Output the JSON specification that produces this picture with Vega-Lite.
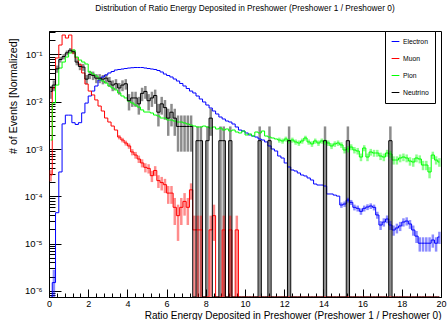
{
  "$schema": "https://vega.github.io/schema/vega-lite/v6.json",
  "width": 392,
  "height": 266,
  "autosize": {"type": "none"},
  "padding": {"left": 49, "top": 31, "right": 6, "bottom": 23},
  "background": "white",
  "title": {"text": "Distribution of Ratio Energy Deposited in Preshower (Preshower 1 / Preshower 0)", "fontSize": 8.3, "font": "Liberation Sans", "fontWeight": "normal", "color": "black", "frame": "group", "anchor": "middle", "offset": 15},
  "config": {
    "view": {"stroke": "black", "strokeWidth": 1},
    "axis": {"labelColor": "black", "tickColor": "black", "domainColor": "black", "titleColor": "black", "labelFont": "Liberation Sans", "titleFont": "Liberation Sans", "titleFontWeight": "normal", "grid": false, "labelOverlap": false, "labelFlush": false, "labelBound": false},
    "legend": {
      "orient": "none", "legendX": 336, "legendY": 0, "title": null,
      "symbolType": "stroke", "symbolSize": 60, "symbolStrokeWidth": 1, "symbolOpacity": 1,
      "labelFont": "Liberation Sans", "labelFontSize": 6.8, "labelColor": "black", "labelOffset": 3,
      "strokeColor": "black", "fillColor": "white", "padding": 6, "rowPadding": 8
    }
  },
  "datasets": {
    "hist": [
      {"x":0.083,"Electron":0,"Muon":2.82e-4,"Pion":1.55e-3,"Neutrino":0.0165},
      {"x":0.25,"Electron":1.5e-6,"Muon":0.0195,"Pion":9.4e-3,"Neutrino":0.0225},
      {"x":0.417,"Electron":4.5e-5,"Muon":0.084,"Pion":0.0225,"Neutrino":0.0495},
      {"x":0.583,"Electron":3.27e-4,"Muon":0.158,"Pion":0.0515,"Neutrino":0.078},
      {"x":0.75,"Electron":3.4e-3,"Muon":0.257,"Pion":0.069,"Neutrino":0.09},
      {"x":0.917,"Electron":5.2e-3,"Muon":0.222,"Pion":0.088,"Neutrino":0.108},
      {"x":1.083,"Electron":5.2e-3,"Muon":0.257,"Pion":0.107,"Neutrino":0.123},
      {"x":1.25,"Electron":3.6e-3,"Muon":0.107,"Pion":0.124,"Neutrino":0.114},
      {"x":1.417,"Electron":3.3e-3,"Muon":0.084,"Pion":0.088,"Neutrino":0.069},
      {"x":1.583,"Electron":3.6e-3,"Muon":0.0605,"Pion":0.076,"Neutrino":0.0555},
      {"x":1.75,"Electron":5.8e-3,"Muon":0.0405,"Pion":0.069,"Neutrino":0.054},
      {"x":1.917,"Electron":9.35e-3,"Muon":0.0237,"Pion":0.0627,"Neutrino":0.03},
      {"x":2.083,"Electron":0.0132,"Muon":0.0168,"Pion":0.0425,"Neutrino":0.0375},
      {"x":2.25,"Electron":0.0168,"Muon":0.0139,"Pion":0.0385,"Neutrino":0.036},
      {"x":2.417,"Electron":0.0215,"Muon":0.0109,"Pion":0.0349,"Neutrino":0.0315},
      {"x":2.583,"Electron":0.0288,"Muon":0.0081,"Pion":0.0302,"Neutrino":0.0315},
      {"x":2.75,"Electron":0.0333,"Muon":0.00636,"Pion":0.0274,"Neutrino":0.03},
      {"x":2.917,"Electron":0.0367,"Muon":0.00452,"Pion":0.0248,"Neutrino":0.0315},
      {"x":3.083,"Electron":0.0405,"Muon":0.00372,"Pion":0.0215,"Neutrino":0.027},
      {"x":3.25,"Electron":0.0435,"Muon":0.00306,"Pion":0.0195,"Neutrino":0.0225},
      {"x":3.417,"Electron":0.0468,"Muon":0.00252,"Pion":0.0177,"Neutrino":0.024},
      {"x":3.583,"Electron":0.048,"Muon":0.00179,"Pion":0.0153,"Neutrino":0.0195},
      {"x":3.75,"Electron":0.0491,"Muon":0.00155,"Pion":0.0132,"Neutrino":0.0225},
      {"x":3.917,"Electron":0.0503,"Muon":0.00134,"Pion":0.012,"Neutrino":0.024},
      {"x":4.083,"Electron":0.0515,"Muon":0.00116,"Pion":0.0103,"Neutrino":0.0105},
      {"x":4.25,"Electron":0.0523,"Muon":8.65e-4,"Pion":0.0094,"Neutrino":0.012},
      {"x":4.417,"Electron":0.0528,"Muon":7.46e-4,"Pion":0.0085,"Neutrino":0.012},
      {"x":4.583,"Electron":0.0528,"Muon":6.15e-4,"Pion":0.0077,"Neutrino":0.009},
      {"x":4.75,"Electron":0.0528,"Muon":5.07e-4,"Pion":0.0067,"Neutrino":0.015},
      {"x":4.917,"Electron":0.0515,"Muon":4.1e-4,"Pion":0.00605,"Neutrino":0.0165},
      {"x":5.083,"Electron":0.0503,"Muon":3.9e-4,"Pion":0.00605,"Neutrino":0.0105},
      {"x":5.25,"Electron":0.0491,"Muon":2.73e-4,"Pion":0.00577,"Neutrino":0.012},
      {"x":5.417,"Electron":0.048,"Muon":3.51e-4,"Pion":0.00523,"Neutrino":0.0135},
      {"x":5.583,"Electron":0.0457,"Muon":2.15e-4,"Pion":0.00499,"Neutrino":0.006},
      {"x":5.75,"Electron":0.0425,"Muon":1.95e-4,"Pion":0.00452,"Neutrino":0.009},
      {"x":5.917,"Electron":0.0385,"Muon":1.76e-4,"Pion":0.00452,"Neutrino":0.0075},
      {"x":6.083,"Electron":0.0358,"Muon":1.17e-4,"Pion":0.0041,"Neutrino":0.0045},
      {"x":6.25,"Electron":0.0333,"Muon":1.17e-4,"Pion":0.0041,"Neutrino":0.006},
      {"x":6.417,"Electron":0.0302,"Muon":5.85e-5,"Pion":0.0039,"Neutrino":0.0045},
      {"x":6.583,"Electron":0.0274,"Muon":3.9e-5,"Pion":0.00372,"Neutrino":0.003},
      {"x":6.75,"Electron":0.0243,"Muon":5.85e-5,"Pion":0.00372,"Neutrino":0.003},
      {"x":6.917,"Electron":0.0215,"Muon":7.8e-5,"Pion":0.00355,"Neutrino":0.003},
      {"x":7.083,"Electron":0.019,"Muon":5.85e-5,"Pion":0.00338,"Neutrino":0.003},
      {"x":7.25,"Electron":0.0168,"Muon":1.37e-4,"Pion":0.00321,"Neutrino":0.003},
      {"x":7.417,"Electron":0.0153,"Muon":1.95e-5,"Pion":0.00306,"Neutrino":0},
      {"x":7.583,"Electron":0.0132,"Muon":1.95e-5,"Pion":0.00292,"Neutrino":0.0015},
      {"x":7.75,"Electron":0.0114,"Muon":1.95e-5,"Pion":0.00292,"Neutrino":0.0015},
      {"x":7.917,"Electron":0.00986,"Muon":0,"Pion":0.00306,"Neutrino":0},
      {"x":8.083,"Electron":0.00851,"Muon":0,"Pion":0.00292,"Neutrino":0.0015},
      {"x":8.25,"Electron":0.00736,"Muon":1.95e-5,"Pion":0.00278,"Neutrino":0.0045},
      {"x":8.417,"Electron":0.00636,"Muon":3.9e-5,"Pion":0.00292,"Neutrino":0},
      {"x":8.583,"Electron":0.0055,"Muon":0,"Pion":0.00265,"Neutrino":0},
      {"x":8.75,"Electron":0.00475,"Muon":0,"Pion":0.00278,"Neutrino":0.0015},
      {"x":8.917,"Electron":0.00431,"Muon":1.95e-5,"Pion":0.00252,"Neutrino":0.0015},
      {"x":9.083,"Electron":0.00391,"Muon":0,"Pion":0.00265,"Neutrino":0},
      {"x":9.25,"Electron":0.00372,"Muon":1.95e-5,"Pion":0.0024,"Neutrino":0.0015},
      {"x":9.417,"Electron":0.00338,"Muon":0,"Pion":0.00252,"Neutrino":0},
      {"x":9.583,"Electron":0.00292,"Muon":1.95e-5,"Pion":0.00229,"Neutrino":0},
      {"x":9.75,"Electron":0.00252,"Muon":0,"Pion":0.00218,"Neutrino":0},
      {"x":9.917,"Electron":0.0024,"Muon":0,"Pion":0.0024,"Neutrino":0},
      {"x":10.083,"Electron":0.00218,"Muon":0,"Pion":0.00198,"Neutrino":0},
      {"x":10.25,"Electron":0.00198,"Muon":0,"Pion":0.00208,"Neutrino":0},
      {"x":10.417,"Electron":0.00188,"Muon":0,"Pion":0.00188,"Neutrino":0},
      {"x":10.583,"Electron":0.00179,"Muon":0,"Pion":0.00229,"Neutrino":0},
      {"x":10.75,"Electron":0.00163,"Muon":0,"Pion":0.00218,"Neutrino":0.0015},
      {"x":10.917,"Electron":0.00155,"Muon":0,"Pion":0.0024,"Neutrino":0},
      {"x":11.083,"Electron":0.00141,"Muon":0,"Pion":0.00188,"Neutrino":0},
      {"x":11.25,"Electron":0.00116,"Muon":0,"Pion":0.00179,"Neutrino":0.0015},
      {"x":11.417,"Electron":0.001,"Muon":0,"Pion":0.00171,"Neutrino":0},
      {"x":11.583,"Electron":9.08e-4,"Muon":0,"Pion":0.00163,"Neutrino":0},
      {"x":11.75,"Electron":7.11e-4,"Muon":0,"Pion":0.00155,"Neutrino":0},
      {"x":11.917,"Electron":6.45e-4,"Muon":0,"Pion":0.00148,"Neutrino":0},
      {"x":12.083,"Electron":5.06e-4,"Muon":0,"Pion":0.00163,"Neutrino":0},
      {"x":12.25,"Electron":4.17e-4,"Muon":0,"Pion":0.00148,"Neutrino":0.0015},
      {"x":12.417,"Electron":3.6e-4,"Muon":0,"Pion":0.00155,"Neutrino":0},
      {"x":12.583,"Electron":3.43e-4,"Muon":0,"Pion":0.00141,"Neutrino":0},
      {"x":12.75,"Electron":3.11e-4,"Muon":0,"Pion":0.00134,"Neutrino":0},
      {"x":12.917,"Electron":2.82e-4,"Muon":0,"Pion":0.00148,"Neutrino":0},
      {"x":13.083,"Electron":2.69e-4,"Muon":0,"Pion":0.00171,"Neutrino":0},
      {"x":13.25,"Electron":2.44e-4,"Muon":0,"Pion":0.00141,"Neutrino":0},
      {"x":13.417,"Electron":2.21e-4,"Muon":0,"Pion":0.00128,"Neutrino":0},
      {"x":13.583,"Electron":1.82e-4,"Muon":0,"Pion":0.00148,"Neutrino":0},
      {"x":13.75,"Electron":1.73e-4,"Muon":0,"Pion":0.00134,"Neutrino":0},
      {"x":13.917,"Electron":1.73e-4,"Muon":0,"Pion":0.00148,"Neutrino":0},
      {"x":14.083,"Electron":1.65e-4,"Muon":0,"Pion":0.00141,"Neutrino":0.0015},
      {"x":14.25,"Electron":1.12e-4,"Muon":0,"Pion":0.00134,"Neutrino":0},
      {"x":14.417,"Electron":1.12e-4,"Muon":0,"Pion":0.00116,"Neutrino":0},
      {"x":14.583,"Electron":1.06e-4,"Muon":0,"Pion":0.00128,"Neutrino":0},
      {"x":14.75,"Electron":1.01e-4,"Muon":0,"Pion":0.00134,"Neutrino":0},
      {"x":14.917,"Electron":6.55e-5,"Muon":0,"Pion":0.00122,"Neutrino":0},
      {"x":15.083,"Electron":6.87e-5,"Muon":0,"Pion":9.53e-4,"Neutrino":0},
      {"x":15.25,"Electron":8.35e-5,"Muon":0,"Pion":0.001,"Neutrino":0.0015},
      {"x":15.417,"Electron":7.46e-5,"Muon":0,"Pion":0.0011,"Neutrino":0},
      {"x":15.583,"Electron":5.85e-5,"Muon":0,"Pion":9.53e-4,"Neutrino":0},
      {"x":15.75,"Electron":5.57e-5,"Muon":0,"Pion":9.08e-4,"Neutrino":0},
      {"x":15.917,"Electron":4.81e-5,"Muon":0,"Pion":6.77e-4,"Neutrino":0},
      {"x":16.083,"Electron":5.57e-5,"Muon":0,"Pion":0.00105,"Neutrino":0},
      {"x":16.25,"Electron":5.94e-5,"Muon":0,"Pion":6.77e-4,"Neutrino":0},
      {"x":16.417,"Electron":6.24e-5,"Muon":0,"Pion":8.65e-4,"Neutrino":0},
      {"x":16.583,"Electron":5.85e-5,"Muon":0,"Pion":8.23e-4,"Neutrino":0},
      {"x":16.75,"Electron":4.03e-5,"Muon":0,"Pion":8.23e-4,"Neutrino":0},
      {"x":16.917,"Electron":2.47e-5,"Muon":0,"Pion":7.11e-4,"Neutrino":0},
      {"x":17.083,"Electron":2.86e-5,"Muon":0,"Pion":6.77e-4,"Neutrino":0},
      {"x":17.25,"Electron":3.31e-5,"Muon":0,"Pion":8.23e-4,"Neutrino":0},
      {"x":17.417,"Electron":2.47e-5,"Muon":0,"Pion":7.84e-4,"Neutrino":0.0015},
      {"x":17.583,"Electron":1.94e-5,"Muon":0,"Pion":5.85e-4,"Neutrino":0},
      {"x":17.75,"Electron":2.14e-5,"Muon":0,"Pion":5.85e-4,"Neutrino":0},
      {"x":17.917,"Electron":2.36e-5,"Muon":0,"Pion":6.45e-4,"Neutrino":0},
      {"x":18.083,"Electron":2.86e-5,"Muon":0,"Pion":6.77e-4,"Neutrino":0},
      {"x":18.25,"Electron":3.0e-5,"Muon":0,"Pion":6.45e-4,"Neutrino":0},
      {"x":18.417,"Electron":2.6e-5,"Muon":0,"Pion":5.57e-4,"Neutrino":0},
      {"x":18.583,"Electron":1.94e-5,"Muon":0,"Pion":5.31e-4,"Neutrino":0},
      {"x":18.75,"Electron":1.44e-5,"Muon":0,"Pion":6.45e-4,"Neutrino":0},
      {"x":18.917,"Electron":1.02e-5,"Muon":0,"Pion":6.15e-4,"Neutrino":0},
      {"x":19.083,"Electron":1.02e-5,"Muon":0,"Pion":4.59e-4,"Neutrino":0},
      {"x":19.25,"Electron":1.02e-5,"Muon":0,"Pion":4.59e-4,"Neutrino":0},
      {"x":19.417,"Electron":1.02e-5,"Muon":0,"Pion":3.27e-4,"Neutrino":0},
      {"x":19.583,"Electron":1.19e-5,"Muon":0,"Pion":7.46e-4,"Neutrino":0},
      {"x":19.75,"Electron":1.02e-5,"Muon":0,"Pion":5.85e-4,"Neutrino":0},
      {"x":19.917,"Electron":1.38e-5,"Muon":0,"Pion":5.31e-4,"Neutrino":0}
    ],
    "err": [
      {"particle":"Neutrino","x":0.083,"lo":0.01152,"hi":0.02148},
      {"particle":"Neutrino","x":0.25,"lo":0.01669,"hi":0.02831},
      {"particle":"Neutrino","x":0.417,"lo":0.04088,"hi":0.05812},
      {"particle":"Neutrino","x":0.583,"lo":0.06718,"hi":0.08882},
      {"particle":"Neutrino","x":0.75,"lo":0.07838,"hi":0.1016},
      {"particle":"Neutrino","x":0.917,"lo":0.09527,"hi":0.1207},
      {"particle":"Neutrino","x":1.083,"lo":0.1094,"hi":0.1366},
      {"particle":"Neutrino","x":1.25,"lo":0.1009,"hi":0.1271},
      {"particle":"Neutrino","x":1.417,"lo":0.05883,"hi":0.07917},
      {"particle":"Neutrino","x":1.583,"lo":0.04638,"hi":0.06462},
      {"particle":"Neutrino","x":1.75,"lo":0.045,"hi":0.063},
      {"particle":"Neutrino","x":1.917,"lo":0.02329,"hi":0.03671},
      {"particle":"Neutrino","x":2.083,"lo":0.03,"hi":0.045},
      {"particle":"Neutrino","x":2.25,"lo":0.02865,"hi":0.04335},
      {"particle":"Neutrino","x":2.417,"lo":0.02463,"hi":0.03837},
      {"particle":"Neutrino","x":2.583,"lo":0.02463,"hi":0.03837},
      {"particle":"Neutrino","x":2.75,"lo":0.02329,"hi":0.03671},
      {"particle":"Neutrino","x":2.917,"lo":0.02463,"hi":0.03837},
      {"particle":"Neutrino","x":3.083,"lo":0.02064,"hi":0.03336},
      {"particle":"Neutrino","x":3.25,"lo":0.01669,"hi":0.02831},
      {"particle":"Neutrino","x":3.417,"lo":0.018,"hi":0.03},
      {"particle":"Neutrino","x":3.583,"lo":0.01409,"hi":0.02491},
      {"particle":"Neutrino","x":3.75,"lo":0.01669,"hi":0.02831},
      {"particle":"Neutrino","x":3.917,"lo":0.018,"hi":0.03},
      {"particle":"Neutrino","x":4.083,"lo":0.00653,"hi":0.01447},
      {"particle":"Neutrino","x":4.25,"lo":0.00776,"hi":0.01624},
      {"particle":"Neutrino","x":4.417,"lo":0.00776,"hi":0.01624},
      {"particle":"Neutrino","x":4.583,"lo":0.00533,"hi":0.01267},
      {"particle":"Neutrino","x":4.75,"lo":0.01026,"hi":0.01974},
      {"particle":"Neutrino","x":4.917,"lo":0.01152,"hi":0.02148},
      {"particle":"Neutrino","x":5.083,"lo":0.00653,"hi":0.01447},
      {"particle":"Neutrino","x":5.25,"lo":0.00776,"hi":0.01624},
      {"particle":"Neutrino","x":5.417,"lo":0.009,"hi":0.018},
      {"particle":"Neutrino","x":5.583,"lo":0.003,"hi":0.009},
      {"particle":"Neutrino","x":5.75,"lo":0.00533,"hi":0.01267},
      {"particle":"Neutrino","x":5.917,"lo":0.00415,"hi":0.01085},
      {"particle":"Neutrino","x":6.083,"lo":0.0019,"hi":0.0071},
      {"particle":"Neutrino","x":6.25,"lo":0.003,"hi":0.009},
      {"particle":"Neutrino","x":6.417,"lo":0.0019,"hi":0.0071},
      {"particle":"Neutrino","x":6.583,"lo":0.000879,"hi":0.00512},
      {"particle":"Neutrino","x":6.75,"lo":0.000879,"hi":0.00512},
      {"particle":"Neutrino","x":6.917,"lo":0.000879,"hi":0.00512},
      {"particle":"Neutrino","x":7.083,"lo":0.000879,"hi":0.00512},
      {"particle":"Neutrino","x":7.25,"lo":0.000879,"hi":0.00512},
      {"particle":"Neutrino","x":7.583,"lo":0,"hi":0.003},
      {"particle":"Neutrino","x":7.75,"lo":0,"hi":0.003},
      {"particle":"Neutrino","x":8.083,"lo":0,"hi":0.003},
      {"particle":"Neutrino","x":8.25,"lo":0.0019,"hi":0.0071},
      {"particle":"Neutrino","x":8.75,"lo":0,"hi":0.003},
      {"particle":"Neutrino","x":8.917,"lo":0,"hi":0.003},
      {"particle":"Neutrino","x":9.25,"lo":0,"hi":0.003},
      {"particle":"Neutrino","x":10.75,"lo":0,"hi":0.003},
      {"particle":"Neutrino","x":11.25,"lo":0,"hi":0.003},
      {"particle":"Neutrino","x":12.25,"lo":0,"hi":0.003},
      {"particle":"Neutrino","x":14.083,"lo":0,"hi":0.003},
      {"particle":"Neutrino","x":15.25,"lo":0,"hi":0.003},
      {"particle":"Neutrino","x":17.417,"lo":0,"hi":0.003},
      {"particle":"Muon","x":0.083,"lo":2.07e-4,"hi":3.57e-4},
      {"particle":"Muon","x":3.583,"lo":1.6e-3,"hi":1.98e-3},
      {"particle":"Muon","x":3.75,"lo":1.38e-3,"hi":1.72e-3},
      {"particle":"Muon","x":3.917,"lo":1.18e-3,"hi":1.5e-3},
      {"particle":"Muon","x":4.083,"lo":1.01e-3,"hi":1.31e-3},
      {"particle":"Muon","x":4.25,"lo":7.34e-4,"hi":9.96e-4},
      {"particle":"Muon","x":4.417,"lo":6.25e-4,"hi":8.67e-4},
      {"particle":"Muon","x":4.583,"lo":5.06e-4,"hi":7.24e-4},
      {"particle":"Muon","x":4.75,"lo":4.08e-4,"hi":6.06e-4},
      {"particle":"Muon","x":4.917,"lo":3.2e-4,"hi":4.99e-4},
      {"particle":"Muon","x":5.083,"lo":3.03e-4,"hi":4.77e-4},
      {"particle":"Muon","x":5.25,"lo":2.0e-4,"hi":3.46e-4},
      {"particle":"Muon","x":5.417,"lo":2.68e-4,"hi":4.34e-4},
      {"particle":"Muon","x":5.583,"lo":1.5e-4,"hi":2.79e-4},
      {"particle":"Muon","x":5.75,"lo":1.33e-4,"hi":2.57e-4},
      {"particle":"Muon","x":5.917,"lo":1.17e-4,"hi":2.34e-4},
      {"particle":"Muon","x":6.083,"lo":6.92e-5,"hi":1.65e-4},
      {"particle":"Muon","x":6.25,"lo":6.92e-5,"hi":1.65e-4},
      {"particle":"Muon","x":6.417,"lo":2.47e-5,"hi":9.23e-5},
      {"particle":"Muon","x":6.583,"lo":1.14e-5,"hi":6.66e-5},
      {"particle":"Muon","x":6.75,"lo":2.47e-5,"hi":9.23e-5},
      {"particle":"Muon","x":6.917,"lo":3.9e-5,"hi":1.17e-4},
      {"particle":"Muon","x":7.083,"lo":2.47e-5,"hi":9.23e-5},
      {"particle":"Muon","x":7.25,"lo":8.49e-5,"hi":1.88e-4},
      {"particle":"Muon","x":7.417,"lo":0,"hi":3.9e-5},
      {"particle":"Muon","x":7.583,"lo":0,"hi":3.9e-5},
      {"particle":"Muon","x":7.75,"lo":0,"hi":3.9e-5},
      {"particle":"Muon","x":8.25,"lo":0,"hi":3.9e-5},
      {"particle":"Muon","x":8.417,"lo":1.14e-5,"hi":6.66e-5},
      {"particle":"Muon","x":8.917,"lo":0,"hi":3.9e-5},
      {"particle":"Muon","x":9.25,"lo":0,"hi":3.9e-5},
      {"particle":"Muon","x":9.583,"lo":0,"hi":3.9e-5},
      {"particle":"Electron","x":0.25,"lo":3e-7,"hi":2.8e-6},
      {"particle":"Electron","x":14.917,"lo":5.69e-5,"hi":7.41e-5},
      {"particle":"Electron","x":15.083,"lo":5.98e-5,"hi":7.76e-5},
      {"particle":"Electron","x":15.25,"lo":7.37e-5,"hi":9.33e-5},
      {"particle":"Electron","x":15.417,"lo":6.54e-5,"hi":8.38e-5},
      {"particle":"Electron","x":15.583,"lo":5.03e-5,"hi":6.67e-5},
      {"particle":"Electron","x":15.75,"lo":4.77e-5,"hi":6.37e-5},
      {"particle":"Electron","x":15.917,"lo":4.07e-5,"hi":5.55e-5},
      {"particle":"Electron","x":16.083,"lo":4.77e-5,"hi":6.37e-5},
      {"particle":"Electron","x":16.25,"lo":5.11e-5,"hi":6.77e-5},
      {"particle":"Electron","x":16.417,"lo":5.39e-5,"hi":7.09e-5},
      {"particle":"Electron","x":16.583,"lo":5.03e-5,"hi":6.67e-5},
      {"particle":"Electron","x":16.75,"lo":3.35e-5,"hi":4.71e-5},
      {"particle":"Electron","x":16.917,"lo":1.94e-5,"hi":3.0e-5},
      {"particle":"Electron","x":17.083,"lo":2.29e-5,"hi":3.43e-5},
      {"particle":"Electron","x":17.25,"lo":2.69e-5,"hi":3.93e-5},
      {"particle":"Electron","x":17.417,"lo":1.94e-5,"hi":3.0e-5},
      {"particle":"Electron","x":17.583,"lo":1.47e-5,"hi":2.41e-5},
      {"particle":"Electron","x":17.75,"lo":1.64e-5,"hi":2.64e-5},
      {"particle":"Electron","x":17.917,"lo":1.84e-5,"hi":2.88e-5},
      {"particle":"Electron","x":18.083,"lo":2.29e-5,"hi":3.43e-5},
      {"particle":"Electron","x":18.25,"lo":2.41e-5,"hi":3.59e-5},
      {"particle":"Electron","x":18.417,"lo":2.05e-5,"hi":3.15e-5},
      {"particle":"Electron","x":18.583,"lo":1.47e-5,"hi":2.41e-5},
      {"particle":"Electron","x":18.75,"lo":1.03e-5,"hi":1.85e-5},
      {"particle":"Electron","x":18.917,"lo":6.77e-6,"hi":1.36e-5},
      {"particle":"Electron","x":19.083,"lo":6.77e-6,"hi":1.36e-5},
      {"particle":"Electron","x":19.25,"lo":6.77e-6,"hi":1.36e-5},
      {"particle":"Electron","x":19.417,"lo":6.77e-6,"hi":1.36e-5},
      {"particle":"Electron","x":19.583,"lo":8.2e-6,"hi":1.56e-5},
      {"particle":"Electron","x":19.75,"lo":6.77e-6,"hi":1.36e-5},
      {"particle":"Electron","x":19.917,"lo":9.8e-6,"hi":1.78e-5},
      {"particle":"Pion","x":11.75,"lo":1.36e-3,"hi":1.74e-3},
      {"particle":"Pion","x":11.917,"lo":1.295e-3,"hi":1.665e-3},
      {"particle":"Pion","x":12.083,"lo":1.436e-3,"hi":1.824e-3},
      {"particle":"Pion","x":12.25,"lo":1.295e-3,"hi":1.665e-3},
      {"particle":"Pion","x":12.417,"lo":1.36e-3,"hi":1.74e-3},
      {"particle":"Pion","x":12.583,"lo":1.23e-3,"hi":1.59e-3},
      {"particle":"Pion","x":12.75,"lo":1.164e-3,"hi":1.516e-3},
      {"particle":"Pion","x":12.917,"lo":1.295e-3,"hi":1.665e-3},
      {"particle":"Pion","x":13.083,"lo":1.512e-3,"hi":1.908e-3},
      {"particle":"Pion","x":13.25,"lo":1.23e-3,"hi":1.59e-3},
      {"particle":"Pion","x":13.417,"lo":1.108e-3,"hi":1.452e-3},
      {"particle":"Pion","x":13.583,"lo":1.295e-3,"hi":1.665e-3},
      {"particle":"Pion","x":13.75,"lo":1.164e-3,"hi":1.516e-3},
      {"particle":"Pion","x":13.917,"lo":1.295e-3,"hi":1.665e-3},
      {"particle":"Pion","x":14.083,"lo":1.23e-3,"hi":1.59e-3},
      {"particle":"Pion","x":14.25,"lo":1.164e-3,"hi":1.516e-3},
      {"particle":"Pion","x":14.417,"lo":9.96e-4,"hi":1.324e-3},
      {"particle":"Pion","x":14.583,"lo":1.108e-3,"hi":1.452e-3},
      {"particle":"Pion","x":14.75,"lo":1.164e-3,"hi":1.516e-3},
      {"particle":"Pion","x":14.917,"lo":1.053e-3,"hi":1.387e-3},
      {"particle":"Pion","x":15.083,"lo":8.05e-4,"hi":1.101e-3},
      {"particle":"Pion","x":15.25,"lo":8.48e-4,"hi":1.152e-3},
      {"particle":"Pion","x":15.417,"lo":9.41e-4,"hi":1.26e-3},
      {"particle":"Pion","x":15.583,"lo":8.05e-4,"hi":1.101e-3},
      {"particle":"Pion","x":15.75,"lo":7.64e-4,"hi":1.052e-3},
      {"particle":"Pion","x":15.917,"lo":5.52e-4,"hi":8.02e-4},
      {"particle":"Pion","x":16.083,"lo":8.95e-4,"hi":1.205e-3},
      {"particle":"Pion","x":16.25,"lo":5.52e-4,"hi":8.02e-4},
      {"particle":"Pion","x":16.417,"lo":7.24e-4,"hi":1.006e-3},
      {"particle":"Pion","x":16.583,"lo":6.86e-4,"hi":9.6e-4},
      {"particle":"Pion","x":16.75,"lo":6.86e-4,"hi":9.6e-4},
      {"particle":"Pion","x":16.917,"lo":5.83e-4,"hi":8.39e-4},
      {"particle":"Pion","x":17.083,"lo":5.52e-4,"hi":8.02e-4},
      {"particle":"Pion","x":17.25,"lo":6.86e-4,"hi":9.6e-4},
      {"particle":"Pion","x":17.417,"lo":6.5e-4,"hi":9.18e-4},
      {"particle":"Pion","x":17.583,"lo":4.69e-4,"hi":7.01e-4},
      {"particle":"Pion","x":17.75,"lo":4.69e-4,"hi":7.01e-4},
      {"particle":"Pion","x":17.917,"lo":5.23e-4,"hi":7.67e-4},
      {"particle":"Pion","x":18.083,"lo":5.52e-4,"hi":8.02e-4},
      {"particle":"Pion","x":18.25,"lo":5.23e-4,"hi":7.67e-4},
      {"particle":"Pion","x":18.417,"lo":4.44e-4,"hi":6.7e-4},
      {"particle":"Pion","x":18.583,"lo":4.21e-4,"hi":6.41e-4},
      {"particle":"Pion","x":18.75,"lo":5.23e-4,"hi":7.67e-4},
      {"particle":"Pion","x":18.917,"lo":4.96e-4,"hi":7.34e-4},
      {"particle":"Pion","x":19.083,"lo":3.56e-4,"hi":5.62e-4},
      {"particle":"Pion","x":19.25,"lo":3.56e-4,"hi":5.62e-4},
      {"particle":"Pion","x":19.417,"lo":2.4e-4,"hi":4.14e-4},
      {"particle":"Pion","x":19.583,"lo":6.15e-4,"hi":8.77e-4},
      {"particle":"Pion","x":19.75,"lo":4.69e-4,"hi":7.01e-4},
      {"particle":"Pion","x":19.917,"lo":4.21e-4,"hi":6.41e-4}
    ]
  },
  "encoding": {
    "x": {
      "field": "x", "type": "quantitative",
      "scale": {"domain": [0, 20], "nice": false, "zero": false},
      "axis": {
        "values": [0,0.4,0.8,1.2,1.6,2,2.4,2.8,3.2,3.6,4,4.4,4.8,5.2,5.6,6,6.4,6.8,7.2,7.6,8,8.4,8.8,9.2,9.6,10,10.4,10.8,11.2,11.6,12,12.4,12.8,13.2,13.6,14,14.4,14.8,15.2,15.6,16,16.4,16.8,17.2,17.6,18,18.4,18.8,19.2,19.6,20],
        "labelExpr": "abs(datum.value - 2*round(datum.value/2)) < 0.01 ? '' + datum.value : ''",
        "tickSize": {"condition": {"test": "abs(datum.value - 2*round(datum.value/2)) < 0.01", "value": -8}, "value": -4},
        "labelPadding": 10.5,
        "labelFontSize": 9,
        "labelOverlap": false,
        "title": "Ratio Energy Deposited in Preshower (Preshower 1 / Preshower 0)",
        "titleAnchor": "end",
        "titleFontSize": 10,
        "titleBaseline": "alphabetic",
        "titleY": 21
      }
    },
    "color": {
      "field": "particle", "type": "nominal",
      "scale": {"domain": ["Electron", "Muon", "Pion", "Neutrino"], "range": ["#0000ff", "#ff0000", "#00ff00", "#000000"]},
      "legend": {}
    }
  },
  "layer": [
    {
      "data": {"name": "err"},
      "mark": {"type": "rule", "strokeWidth": 2.5, "opacity": 0.45, "clip": true, "invalid": "show"},
      "encoding": {
        "y": {
          "field": "lo", "type": "quantitative",
          "scale": {"type": "log", "domain": [7.43e-7, 0.3126], "nice": false, "clamp": true},
          "axis": {
            "values": [8e-7,9e-7,1e-6,2e-6,3e-6,4e-6,5e-6,6e-6,7e-6,8e-6,9e-6,1e-5,2e-5,3e-5,4e-5,5e-5,6e-5,7e-5,8e-5,9e-5,1e-4,2e-4,3e-4,4e-4,5e-4,6e-4,7e-4,8e-4,9e-4,1e-3,2e-3,3e-3,4e-3,5e-3,6e-3,7e-3,8e-3,9e-3,1e-2,2e-2,3e-2,4e-2,5e-2,6e-2,7e-2,8e-2,9e-2,0.1,0.2,0.3],
            "labelExpr": "abs(log(datum.value)/LN10 - round(log(datum.value)/LN10)) < 0.001 ? '10' + ['⁻⁶','⁻⁵','⁻⁴','⁻³','⁻²','⁻¹'][round(log(datum.value)/LN10) + 6] : ''",
            "tickSize": {"condition": {"test": "abs(log(datum.value)/LN10 - round(log(datum.value)/LN10)) < 0.001", "value": -12}, "value": -6},
            "labelPadding": 19,
            "labelFontSize": 9.5,
            "labelOverlap": false,
            "title": "# of Events [Normalized]",
            "titleAnchor": "end",
            "titleFontSize": 10.6,
            "titleY": 7,
            "titlePadding": 6
          }
        },
        "y2": {"field": "hi"}
      }
    },
    {
      "data": {"name": "hist"},
      "transform": [{"fold": ["Electron", "Muon", "Pion", "Neutrino"], "as": ["particle", "y"]}],
      "mark": {"type": "line", "interpolate": "step", "strokeWidth": 1, "clip": true, "invalid": "show"},
      "encoding": {
        "y": {
          "field": "y", "type": "quantitative",
          "scale": {"type": "log", "domain": [7.43e-7, 0.3126], "nice": false, "clamp": true},
          "axis": {
            "values": [8e-7,9e-7,1e-6,2e-6,3e-6,4e-6,5e-6,6e-6,7e-6,8e-6,9e-6,1e-5,2e-5,3e-5,4e-5,5e-5,6e-5,7e-5,8e-5,9e-5,1e-4,2e-4,3e-4,4e-4,5e-4,6e-4,7e-4,8e-4,9e-4,1e-3,2e-3,3e-3,4e-3,5e-3,6e-3,7e-3,8e-3,9e-3,1e-2,2e-2,3e-2,4e-2,5e-2,6e-2,7e-2,8e-2,9e-2,0.1,0.2,0.3],
            "labelExpr": "abs(log(datum.value)/LN10 - round(log(datum.value)/LN10)) < 0.001 ? '10' + ['⁻⁶','⁻⁵','⁻⁴','⁻³','⁻²','⁻¹'][round(log(datum.value)/LN10) + 6] : ''",
            "tickSize": {"condition": {"test": "abs(log(datum.value)/LN10 - round(log(datum.value)/LN10)) < 0.001", "value": -12}, "value": -6},
            "labelPadding": 19,
            "labelFontSize": 9.5,
            "labelOverlap": false,
            "title": "# of Events [Normalized]",
            "titleAnchor": "end",
            "titleFontSize": 10.6,
            "titleY": 7,
            "titlePadding": 6
          }
        }
      }
    }
  ]
}
